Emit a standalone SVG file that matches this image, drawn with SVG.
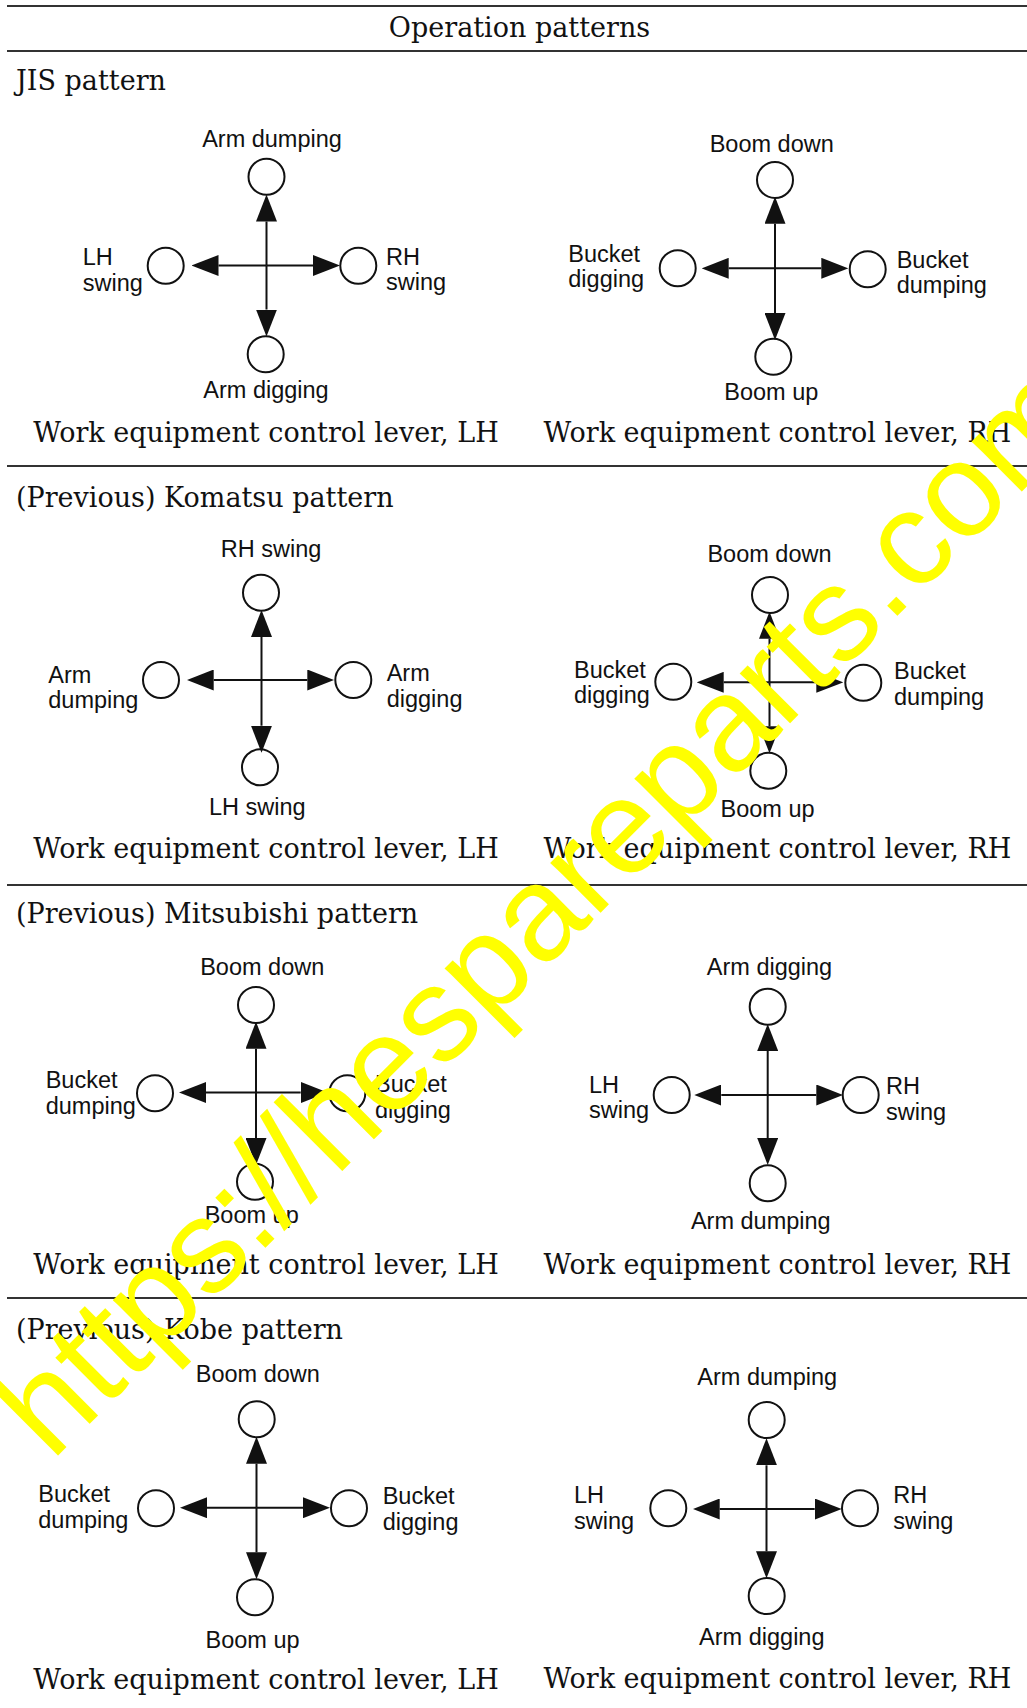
<svg xmlns="http://www.w3.org/2000/svg" width="1027" height="1708" viewBox="0 0 1027 1708">
<style>
.bg{fill:#fff}
.rule{stroke:#333;stroke-width:1.8}
.t{font-family:"DejaVu Serif","Liberation Serif",serif;font-size:27px;fill:#111}
.s{font-family:"Liberation Sans",Arial,sans-serif;font-size:23.5px;fill:#111}
.c{text-anchor:middle}
.n{fill:none;stroke:#111;stroke-width:2}
.a{stroke:#111;stroke-width:2;fill:none;marker-end:url(#ah)}
.wm{font-family:"Liberation Sans",Arial,sans-serif;font-size:134px;fill:#ffff00}
</style>
<defs>
<marker id="ah" viewBox="0 0 27 21" refX="0" refY="10.5" markerWidth="27" markerHeight="21" markerUnits="userSpaceOnUse" orient="auto"><path d="M0,0 L27,10.5 L0,21 z" fill="#111"/></marker>
</defs>
<rect class="bg" x="0" y="0" width="1027" height="1708"/>

<g id="rules">
<line class="rule" x1="7" y1="6" x2="1027" y2="6"/>
<line class="rule" x1="7" y1="51" x2="1027" y2="51"/>
<line class="rule" x1="7" y1="466" x2="1027" y2="466"/>
<line class="rule" x1="7" y1="885" x2="1027" y2="885"/>
<line class="rule" x1="7" y1="1298" x2="1027" y2="1298"/>
</g>

<g id="titles">
<text class="t c" x="519.5" y="37">Operation patterns</text>
<text class="t" x="16" y="90">JIS pattern</text>
<text class="t" x="16" y="506.7">(Previous) Komatsu pattern</text>
<text class="t" x="16" y="922.7">(Previous) Mitsubishi pattern</text>
<text class="t" x="16" y="1339.3">(Previous) Kobe pattern</text>
<text class="t c" x="266" y="441.7">Work equipment control lever, LH</text>
<text class="t c" x="777.5" y="441.7">Work equipment control lever, RH</text>
<text class="t c" x="266" y="858.3">Work equipment control lever, LH</text>
<text class="t c" x="777.5" y="858.3">Work equipment control lever, RH</text>
<text class="t c" x="266" y="1274">Work equipment control lever, LH</text>
<text class="t c" x="777.5" y="1274">Work equipment control lever, RH</text>
<text class="t c" x="266" y="1689.3">Work equipment control lever, LH</text>
<text class="t c" x="777.5" y="1688.3">Work equipment control lever, RH</text>
</g>

<!-- JIS LH -->
<g id="jis-lh-up"><circle class="n" cx="266.5" cy="176.7" r="18"/><text class="s c" x="272" y="146.5">Arm dumping</text></g>
<g id="jis-lh-down"><circle class="n" cx="265.7" cy="354.3" r="18"/><text class="s c" x="266" y="398">Arm digging</text></g>
<g id="jis-lh-left"><circle class="n" cx="165.7" cy="265.7" r="18"/><text class="s" x="82.7" y="265">LH<tspan x="82.7" dy="25.5">swing</tspan></text></g>
<g id="jis-lh-right"><circle class="n" cx="358.3" cy="265.7" r="18"/><text class="s" x="386" y="265">RH<tspan x="386" dy="25">swing</tspan></text></g>

<!-- JIS RH -->
<g id="jis-rh-up"><circle class="n" cx="775" cy="180" r="18"/><text class="s c" x="771.7" y="151.7">Boom down</text></g>
<g id="jis-rh-down"><circle class="n" cx="773.3" cy="356.7" r="18"/><text class="s c" x="771.3" y="400">Boom up</text></g>
<g id="jis-rh-left"><circle class="n" cx="677.7" cy="268.3" r="18"/><text class="s" x="568.3" y="261.7">Bucket<tspan x="568.3" dy="25">digging</tspan></text></g>
<g id="jis-rh-right"><circle class="n" cx="867.7" cy="269.3" r="18"/><text class="s" x="896.7" y="268.3">Bucket<tspan x="896.7" dy="25">dumping</tspan></text></g>

<!-- Komatsu LH -->
<g id="kom-lh-up"><circle class="n" cx="261" cy="592.7" r="18"/><text class="s c" x="271" y="556.7">RH swing</text></g>
<g id="kom-lh-down"><circle class="n" cx="260" cy="767.3" r="18"/><text class="s c" x="257.3" y="815">LH swing</text></g>
<g id="kom-lh-left"><circle class="n" cx="161" cy="680" r="18"/><text class="s" x="48.3" y="682.7">Arm<tspan x="48.3" dy="25.6">dumping</tspan></text></g>
<g id="kom-lh-right"><circle class="n" cx="353.3" cy="680" r="18"/><text class="s" x="386.7" y="680.7">Arm<tspan x="386.7" dy="26">digging</tspan></text></g>

<!-- Komatsu RH -->
<g id="kom-rh-up"><circle class="n" cx="770" cy="595" r="18"/><text class="s c" x="769.5" y="561.7">Boom down</text></g>
<g id="kom-rh-down"><circle class="n" cx="768.3" cy="770.7" r="18"/><text class="s c" x="767.5" y="817.3">Boom up</text></g>
<g id="kom-rh-left"><circle class="n" cx="673.3" cy="681.7" r="18"/><text class="s" x="574" y="678.3">Bucket<tspan x="574" dy="24.4">digging</tspan></text></g>
<g id="kom-rh-right"><circle class="n" cx="863.3" cy="682.7" r="18"/><text class="s" x="894" y="679">Bucket<tspan x="894" dy="26">dumping</tspan></text></g>

<!-- Mitsubishi LH -->
<g id="mit-lh-up"><circle class="n" cx="256" cy="1005" r="18"/><text class="s c" x="262.2" y="975">Boom down</text></g>
<g id="mit-lh-down"><circle class="n" cx="255" cy="1181.7" r="18"/><text class="s c" x="251.7" y="1223.3">Boom up</text></g>
<g id="mit-lh-left"><circle class="n" cx="155" cy="1093.3" r="18"/><text class="s" x="45.7" y="1088.3">Bucket<tspan x="45.7" dy="25.7">dumping</tspan></text></g>
<g id="mit-lh-right"><circle class="n" cx="347.3" cy="1093.3" r="18"/><text class="s" x="375" y="1091.7">Bucket<tspan x="375" dy="26.6">digging</tspan></text></g>

<!-- Mitsubishi RH -->
<g id="mit-rh-up"><circle class="n" cx="767.7" cy="1006.7" r="18"/><text class="s c" x="769.5" y="975">Arm digging</text></g>
<g id="mit-rh-down"><circle class="n" cx="767.7" cy="1183.3" r="18"/><text class="s c" x="760.8" y="1229.3">Arm dumping</text></g>
<g id="mit-rh-left"><circle class="n" cx="671.7" cy="1095" r="18"/><text class="s" x="589" y="1092.7">LH<tspan x="589" dy="25.6">swing</tspan></text></g>
<g id="mit-rh-right"><circle class="n" cx="860.7" cy="1095" r="18"/><text class="s" x="886" y="1094">RH<tspan x="886" dy="26">swing</tspan></text></g>

<!-- Kobe LH -->
<g id="kob-lh-up"><circle class="n" cx="256.7" cy="1419.3" r="18"/><text class="s c" x="257.8" y="1381.7">Boom down</text></g>
<g id="kob-lh-down"><circle class="n" cx="255" cy="1597.3" r="18"/><text class="s c" x="252.5" y="1647.7">Boom up</text></g>
<g id="kob-lh-left"><circle class="n" cx="156" cy="1508.3" r="18"/><text class="s" x="38.3" y="1502.3">Bucket<tspan x="38.3" dy="26">dumping</tspan></text></g>
<g id="kob-lh-right"><circle class="n" cx="349" cy="1508.3" r="18"/><text class="s" x="382.7" y="1504">Bucket<tspan x="382.7" dy="26">digging</tspan></text></g>

<!-- Kobe RH -->
<g id="kob-rh-up"><circle class="n" cx="766.7" cy="1420" r="18"/><text class="s c" x="767.2" y="1385">Arm dumping</text></g>
<g id="kob-rh-down"><circle class="n" cx="766.7" cy="1596" r="18"/><text class="s c" x="761.8" y="1645">Arm digging</text></g>
<g id="kob-rh-left"><circle class="n" cx="668.3" cy="1508.3" r="18"/><text class="s" x="574" y="1503.3">LH<tspan x="574" dy="26">swing</tspan></text></g>
<g id="kob-rh-right"><circle class="n" cx="860" cy="1508.3" r="18"/><text class="s" x="893.3" y="1503.3">RH<tspan x="893.3" dy="26">swing</tspan></text></g>

<g id="connectors">
<line class="a" x1="266.5" y1="265.5" x2="266.5" y2="221.5"/>
<line class="a" x1="266.5" y1="265.5" x2="266.5" y2="309.5"/>
<line class="a" x1="266.5" y1="265.5" x2="218.5" y2="265.5"/>
<line class="a" x1="266.5" y1="265.5" x2="313" y2="265.5"/>

<line class="a" x1="775" y1="268.3" x2="775" y2="223.7"/>
<line class="a" x1="775" y1="268.3" x2="775" y2="313"/>
<line class="a" x1="775" y1="268.3" x2="728.7" y2="268.3"/>
<line class="a" x1="775" y1="268.3" x2="821.3" y2="268.3"/>

<line class="a" x1="261.5" y1="680" x2="261.5" y2="637"/>
<line class="a" x1="261.5" y1="680" x2="261.5" y2="725.7"/>
<line class="a" x1="261.5" y1="680" x2="213.7" y2="680"/>
<line class="a" x1="261.5" y1="680" x2="307.3" y2="680"/>

<line class="a" x1="769.5" y1="682.3" x2="769.5" y2="638.7"/>
<line class="a" x1="769.5" y1="682.3" x2="769.5" y2="726.3"/>
<line class="a" x1="769.5" y1="682.3" x2="723.7" y2="682.3"/>
<line class="a" x1="769.5" y1="682.3" x2="816.3" y2="682.3"/>

<line class="a" x1="256" y1="1092.5" x2="256" y2="1048.7"/>
<line class="a" x1="256" y1="1092.5" x2="256" y2="1138"/>
<line class="a" x1="256" y1="1092.5" x2="206" y2="1092.5"/>
<line class="a" x1="256" y1="1092.5" x2="300.7" y2="1092.5"/>

<line class="a" x1="767.7" y1="1095" x2="767.7" y2="1051"/>
<line class="a" x1="767.7" y1="1095" x2="767.7" y2="1138"/>
<line class="a" x1="767.7" y1="1095" x2="721.3" y2="1095"/>
<line class="a" x1="767.7" y1="1095" x2="816.3" y2="1095"/>

<line class="a" x1="256.5" y1="1507.7" x2="256.5" y2="1463.7"/>
<line class="a" x1="256.5" y1="1507.7" x2="256.5" y2="1552.3"/>
<line class="a" x1="256.5" y1="1507.7" x2="207" y2="1507.7"/>
<line class="a" x1="256.5" y1="1507.7" x2="303" y2="1507.7"/>

<line class="a" x1="766.5" y1="1509" x2="766.5" y2="1465.3"/>
<line class="a" x1="766.5" y1="1509" x2="766.5" y2="1551.3"/>
<line class="a" x1="766.5" y1="1509" x2="719.7" y2="1509"/>
<line class="a" x1="766.5" y1="1509" x2="814.7" y2="1509"/>
</g>

<g id="watermark">
<text class="wm" transform="translate(51.4,1461.9) rotate(-45)" x="0" y="0">https://hespareparts.com</text>
</g>
</svg>
